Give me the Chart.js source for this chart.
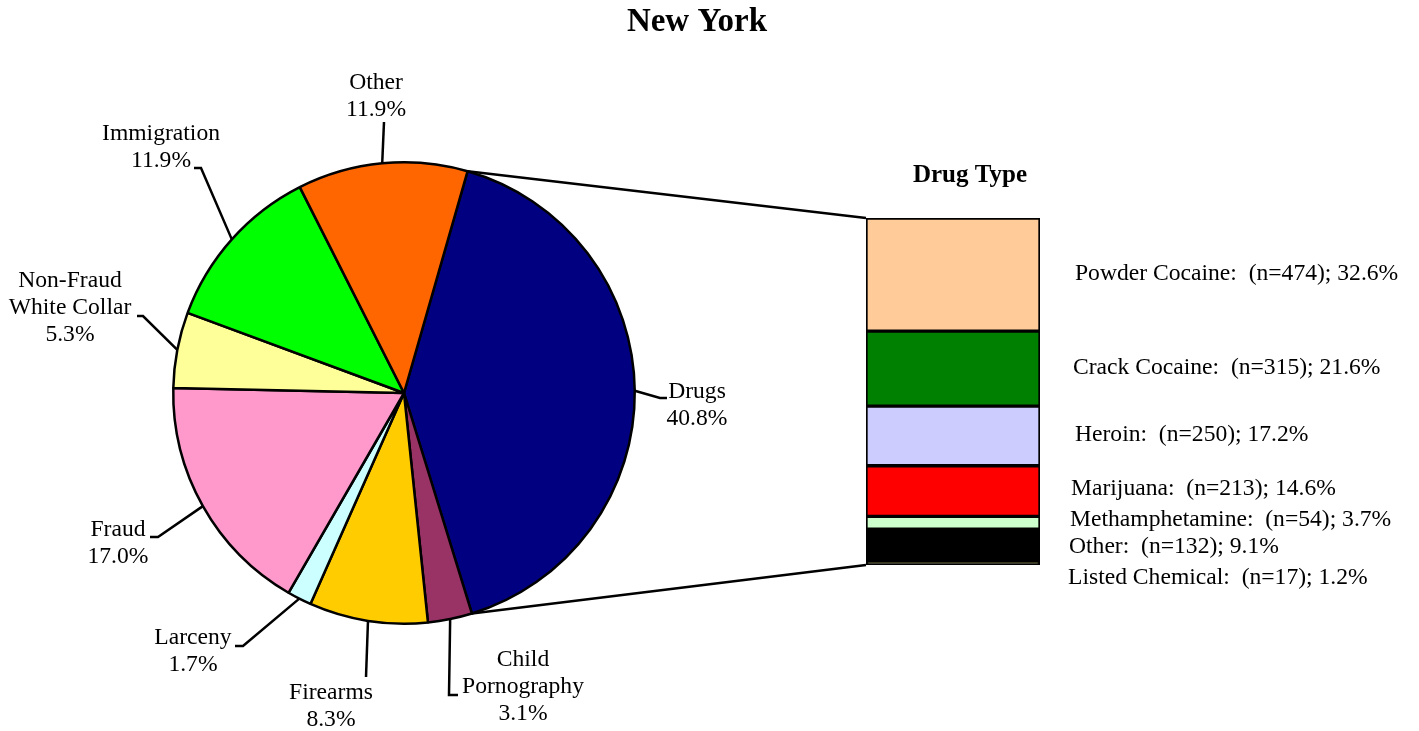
<!DOCTYPE html>
<html>
<head>
<meta charset="utf-8">
<script src="https://cdn.jsdelivr.net/npm/chart.js@4.4.0/dist/chart.umd.min.js"></script>
<style>
  html, body { margin: 0; padding: 0; background: #fff; }
  #wrap { position: relative; width: 1419px; height: 731px; overflow: hidden; }
  #pieChart { position: absolute; left: 0; top: 0; }
  #barChart { position: absolute; left: 856px; top: 208px; }
</style>
</head>
<body>
<div id="wrap">
  <canvas id="pieChart" width="1419" height="731"></canvas>
  <canvas id="barChart" width="194" height="367"></canvas>
</div>
<script>
// offense types, clockwise from the drugs slice
const offenseLabels = ['Drugs', ['Child', 'Pornography'], 'Firearms', 'Larceny', 'Fraud', ['Non-Fraud', 'White Collar'], 'Immigration', 'Other']
const offensePercents = [40.8, 3.1, 8.3, 1.7, 17.0, 5.3, 11.9, 11.9]
const offenseColors = ['#000080', '#993366', '#FFCC00', '#CCFFFF', '#FF99CC', '#FFFF99', '#00FF00', '#FF6600']

// drug breakdown, top of the bar to bottom
const drugLabels = ['Powder Cocaine', 'Crack Cocaine', 'Heroin', 'Marijuana', 'Methamphetamine', 'Other', 'Listed Chemical']
const drugCounts = [474, 315, 250, 213, 54, 132, 17]
const drugPercents = [32.6, 21.6, 17.2, 14.6, 3.7, 9.1, 1.2]
const drugColors = ['#FFCC99', '#008000', '#CCCCFF', '#FF0000', '#CCFFCC', '#000000', '#333300']

const serif = '"Liberation Serif", "Times New Roman", serif'

// where each pie label sits and how its leader line bends
const pieLabelSpots = [
  { x: 697, y: 392, path: [[660, 398], [667, 398]] },
  { x: 523, y: 660, path: [[449, 695], [458, 695]] },
  { x: 331, y: 693, path: [[366, 677]] },
  { x: 193, y: 638, path: [[243, 646], [235, 646]] },
  { x: 118, y: 530, path: [[158, 537], [150, 537]] },
  { x: 70, y: 281, path: [[143, 316], [137, 316]] },
  { x: 161, y: 134, path: [[201, 168], [194, 168]] },
  { x: 376, y: 83, path: [[384, 122]] }
]
const drugLabelX = [1075, 1073, 1075, 1071, 1070, 1069, 1068]
const drugLabelY = [274, 368, 435, 489, 520, 547, 578]
const lineGap = 27

// stacked bar, datasets go bottom-up so reverse the list
const barDatasets = drugLabels.map((name, i) => ({
  label: name,
  data: [drugPercents[i]],
  backgroundColor: drugColors[i],
  borderColor: '#000',
  borderWidth: 2,
  borderSkipped: false,
  barPercentage: 1,
  categoryPercentage: 1
})).reverse()

const barCanvas = document.getElementById('barChart')
const barChart = new Chart(barCanvas, {
  type: 'bar',
  data: { labels: ['Drugs'], datasets: barDatasets },
  options: {
    responsive: false,
    animation: false,
    layout: { padding: 10 },
    plugins: { legend: { display: false }, tooltip: { enabled: false } },
    scales: {
      x: { stacked: true, display: false },
      y: { stacked: true, display: false, min: 0, max: 100 }
    }
  }
})

const labelPlugin = {
  id: 'pieLabels',
  afterDraw(chart) {
    const ctx = chart.ctx
    const arcs = chart.getDatasetMeta(0).data
    ctx.save()

    // title
    ctx.fillStyle = '#000'
    ctx.textAlign = 'center'
    ctx.textBaseline = 'middle'
    ctx.font = 'bold 33px ' + serif
    ctx.fillText('New York', 697, 22)
    ctx.font = 'bold 25px ' + serif
    ctx.fillText('Drug Type', 970, 176)

    // leader lines + labels
    ctx.strokeStyle = '#000'
    ctx.lineWidth = 2.5
    ctx.font = '23.6px ' + serif
    arcs.forEach((arc, i) => {
      const p = arc.getProps(['x', 'y', 'startAngle', 'endAngle', 'outerRadius'])
      const mid = (p.startAngle + p.endAngle) / 2
      const spot = pieLabelSpots[i]
      ctx.beginPath()
      ctx.moveTo(p.x + p.outerRadius * Math.cos(mid), p.y + p.outerRadius * Math.sin(mid))
      spot.path.forEach(pt => ctx.lineTo(pt[0], pt[1]))
      ctx.stroke()

      let name = offenseLabels[i]
      let lines = Array.isArray(name) ? name.slice() : [name]
      lines.push(offensePercents[i].toFixed(1) + '%')
      lines.forEach((t, k) => ctx.fillText(t, spot.x, spot.y + k * lineGap))
    })

    // lines from the drugs slice to the bar
    const drugs = arcs[0].getProps(['x', 'y', 'startAngle', 'endAngle', 'outerRadius'])
    const topBar = barChart.getDatasetMeta(barDatasets.length - 1).data[0]
    const bottomBar = barChart.getDatasetMeta(0).data[0]
    const ox = barCanvas.offsetLeft, oy = barCanvas.offsetTop
    const barLeft = ox + topBar.x - topBar.width / 2
    ctx.beginPath()
    ctx.moveTo(drugs.x + drugs.outerRadius * Math.cos(drugs.startAngle), drugs.y + drugs.outerRadius * Math.sin(drugs.startAngle))
    ctx.lineTo(barLeft, oy + topBar.y)
    ctx.moveTo(drugs.x + drugs.outerRadius * Math.cos(drugs.endAngle), drugs.y + drugs.outerRadius * Math.sin(drugs.endAngle))
    ctx.lineTo(barLeft, oy + bottomBar.base)
    ctx.stroke()

    // bar labels
    ctx.textAlign = 'left'
    drugLabels.forEach((name, i) => {
      const txt = name + ':  (n=' + drugCounts[i] + '); ' + drugPercents[i].toFixed(1) + '%'
      ctx.fillText(txt, drugLabelX[i], drugLabelY[i])
    })
    ctx.restore()
  }
}

const pieChart = new Chart(document.getElementById('pieChart'), {
  type: 'pie',
  data: {
    labels: offenseLabels,
    datasets: [{
      data: offensePercents,
      backgroundColor: offenseColors,
      borderColor: '#000',
      borderWidth: 2.5
    }]
  },
  options: {
    responsive: false,
    animation: false,
    rotation: 16,
    layout: { padding: { left: 172, right: 783, top: 161, bottom: 106 } },
    plugins: { legend: { display: false }, tooltip: { enabled: false } }
  },
  plugins: [labelPlugin]
})
</script>
</body>
</html>
